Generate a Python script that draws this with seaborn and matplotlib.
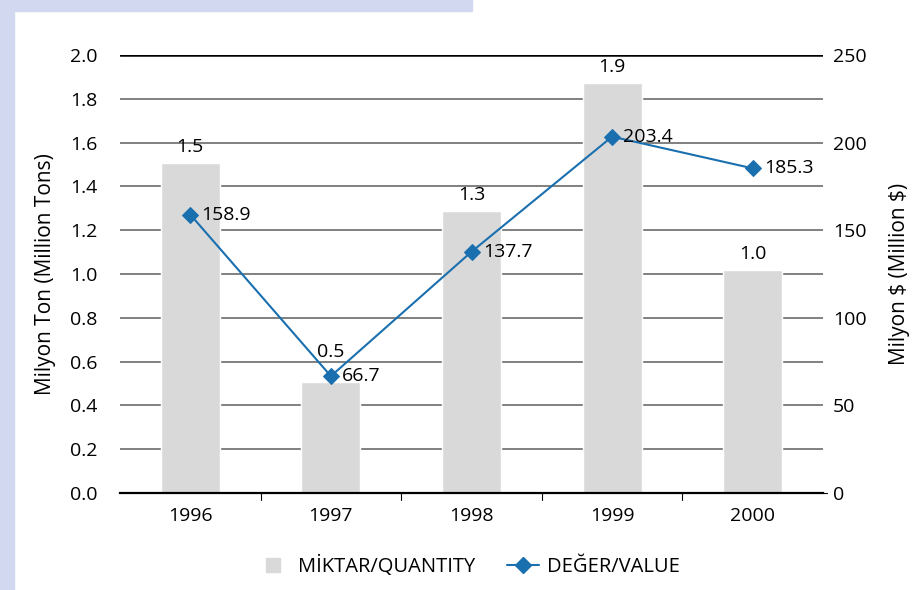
import matplotlib.pyplot as plt
import matplotlib.patches as mpatches
from matplotlib.lines import Line2D
import seaborn as sns
import numpy as np
import pandas as pd

years = ["1996", "1997", "1998", "1999", "2000"]
quantity = [1.507, 0.507, 1.288, 1.872, 1.018]
quantity_labels = ["1.5", "0.5", "1.3", "1.9", "1.0"]
value = [158.9, 66.7, 137.7, 203.4, 185.3]

bar_color = "#d9d9d9"
line_color = "#1a6faf"
fs = 14

sns.set_theme(style="white")
plt.rcParams['font.family'] = ['Open Sans', 'DejaVu Sans']
plt.rcParams['text.color'] = 'black'
plt.rcParams['axes.labelcolor'] = 'black'
plt.rcParams['xtick.color'] = 'black'
plt.rcParams['ytick.color'] = 'black'

df = pd.DataFrame({"year": years, "quantity": quantity, "value": value})

fig = plt.figure(figsize=(9.19, 5.90), dpi=100)
fig.patch.set_facecolor("white")
# lavender background strips
fig.patches.append(mpatches.Rectangle((0, 0), 14 / 919, 1, transform=fig.transFigure,
                                      color="#d2d8ef", zorder=0))
fig.patches.append(mpatches.Rectangle((0, 1 - 11 / 590), 472 / 919, 11 / 590,
                                      transform=fig.transFigure, color="#d2d8ef", zorder=0))

ax = fig.add_axes([120 / 919, 1 - 493 / 590, 703 / 919, 438 / 590])
sns.barplot(data=df, x="year", y="quantity", color=bar_color, width=0.42,
            saturation=1, ax=ax, zorder=2)
ax.set_ylim(0, 2.0)
ax.set_xlim(-0.5, 4.5)
ticks = np.arange(0, 2.01, 0.2)
ax.set_yticks(ticks)
ax.set_yticklabels([f"{t:.1f}" for t in ticks], fontsize=fs)
for t in ticks[1:-1]:
    ax.axhline(t, color="#808080", lw=1.4, zorder=1)
ax.axhline(2.0, color="black", lw=1.8, zorder=1)
ax.set_xlabel("")
ax.set_ylabel("Milyon Ton (Million Tons)", fontsize=15, labelpad=10)
for s in ["left", "right", "top"]:
    ax.spines[s].set_visible(False)
ax.spines["bottom"].set_color("black")
ax.spines["bottom"].set_linewidth(1.6)
ax.spines["bottom"].set_zorder(5)
ax.tick_params(axis="y", length=0, pad=16)
ax.tick_params(axis="x", length=0, pad=10, labelsize=fs)
for b in np.arange(0.5, 4.0, 1.0):
    ax.plot([b, b], [0, -0.03], color="black", lw=0.8, clip_on=False, zorder=5)

# the 1997 label sits higher to clear the line
lift = {1: 0.065}
for i, (q, lab) in enumerate(zip(quantity, quantity_labels)):
    ax.text(i, q + 0.03 + lift.get(i, 0), lab, ha="center", va="bottom",
            fontsize=fs, zorder=6)

ax2 = ax.twinx()
x = np.arange(len(years))
sns.lineplot(x=x, y=value, ax=ax2, color=line_color, lw=1.5, marker="D",
             markersize=8, markeredgecolor=line_color, zorder=4)
ax2.set_ylim(0, 250)
ax2.set_yticks(np.arange(0, 251, 50))
ax2.set_yticklabels([str(t) for t in range(0, 251, 50)], fontsize=fs)
ax2.set_ylabel("Milyon \\$ (Million \\$)", fontsize=15, labelpad=16)
for s in ["left", "right", "top", "bottom"]:
    ax2.spines[s].set_visible(False)
ax2.tick_params(axis="y", length=0, pad=7)
ax2.plot([4.5, 4.53], [0, 0], color="black", lw=0.8, clip_on=False)
for i, v in enumerate(value):
    ax2.text(i + 0.08, v, f"{v:.1f}", ha="left", va="center", fontsize=fs, zorder=6)

handles = [Line2D([0], [0], color=bar_color, marker="s", linestyle="none", markersize=10,
                  label="MİKTAR/QUANTITY"),
           Line2D([0], [0], color=line_color, lw=1.5, marker="D", markersize=8,
                  label="DEĞER/VALUE")]
fig.legend(handles=handles, loc="center", bbox_to_anchor=(0.51, 1 - 566 / 590),
           ncol=2, frameon=False, fontsize=14.5, handlelength=1.6, columnspacing=1.6,
           handletextpad=0.4)

fig.savefig("out.png", dpi=100)
